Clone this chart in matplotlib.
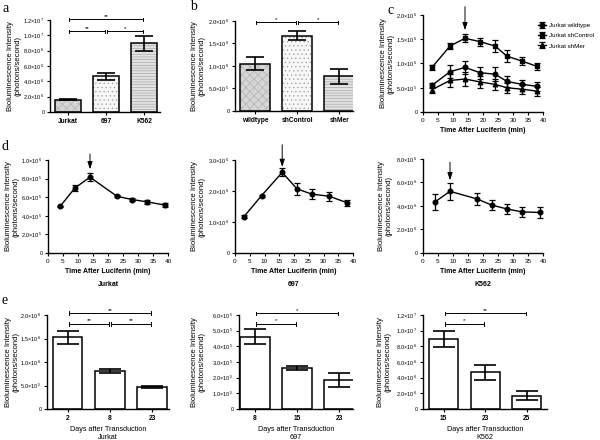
import matplotlib
matplotlib.use("Agg")
import matplotlib.pyplot as plt
from matplotlib.ticker import FuncFormatter, MultipleLocator
import numpy as np

plt.rcParams['font.family'] = ['Liberation Sans', 'DejaVu Sans']
plt.rcParams['mathtext.fontset'] = 'custom'
plt.rcParams['mathtext.rm'] = 'Liberation Sans'
plt.rcParams['hatch.linewidth'] = 0.4

# ---- datos ----
a_cats = ['Jurkat', '697', 'K562']
a_vals = [1.6e6, 4.65e6, 8.95e6]
a_err = [0.1e6, 0.5e6, 0.97e6]
a_sig = [(0, 2, 1.21e7, '**'), (0, 1, 1.05e7, '**'), (1, 2, 1.05e7, '*')]

b_cats = ['wildtype', 'shControl', 'shMer']
b_vals = [1.05e6, 1.67e6, 0.77e6]
b_err = [0.14e6, 0.1e6, 0.16e6]
b_sig = [(0, 1, 1.97e6, '*'), (1, 2, 1.97e6, '*')]

c_time = [3, 9, 14, 19, 24, 28, 33, 38]
c_names = ['Jurkat wildtype', 'Jurkat shControl', 'Jurkat shMer']
c_wt = [0.55e6, 0.83e6, 0.92e6, 0.81e6, 0.78e6, 0.63e6, 0.57e6, 0.53e6]
c_wt_err = [0.05e6, 0.13e6, 0.13e6, 0.12e6, 0.14e6, 0.12e6, 0.09e6, 0.09e6]
c_ctrl = [0.92e6, 1.36e6, 1.52e6, 1.45e6, 1.36e6, 1.15e6, 1.05e6, 0.94e6]
c_ctrl_err = [0.05e6, 0.07e6, 0.08e6, 0.08e6, 0.13e6, 0.12e6, 0.09e6, 0.08e6]
c_mer = [0.46e6, 0.65e6, 0.68e6, 0.62e6, 0.57e6, 0.50e6, 0.47e6, 0.43e6]
c_mer_err = [0.06e6, 0.13e6, 0.15e6, 0.12e6, 0.12e6, 0.10e6, 0.09e6, 0.09e6]
c_peak = 14

d_jurkat_t = [4, 9, 14, 23, 28, 33, 39]
d_jurkat = [5.0e5, 7.0e5, 8.15e5, 6.1e5, 5.75e5, 5.5e5, 5.15e5]
d_jurkat_err = [0.1e5, 0.3e5, 0.4e5, 0.1e5, 0.2e5, 0.25e5, 0.25e5]
d_jurkat_peak = 14

d_697_t = [3, 9, 16, 21, 26, 32, 38]
d_697 = [1.17e6, 1.85e6, 2.6e6, 2.07e6, 1.9e6, 1.83e6, 1.62e6]
d_697_err = [0.05e6, 0.03e6, 0.13e6, 0.2e6, 0.15e6, 0.14e6, 0.1e6]
d_697_peak = 16

d_k562_t = [4, 9, 18, 23, 28, 33, 39]
d_k562 = [4.35e6, 5.25e6, 4.6e6, 4.07e6, 3.75e6, 3.5e6, 3.45e6]
d_k562_err = [0.7e6, 0.7e6, 0.5e6, 0.45e6, 0.45e6, 0.4e6, 0.45e6]
d_k562_peak = 9

e_jurkat_days = ['2', '8', '23']
e_jurkat = [1.53e6, 0.81e6, 0.46e6]
e_jurkat_err = [0.14e6, 0.04e6, 0.02e6]
e_jurkat_sig = [(0, 2, 2.04e6, '**'), (0, 1, 1.81e6, '**'), (1, 2, 1.81e6, '**')]

e_697_days = ['8', '15', '23']
e_697 = [4.6e5, 2.6e5, 1.85e5]
e_697_err = [0.48e5, 0.12e5, 0.45e5]
e_697_sig = [(0, 2, 6.1e5, '*'), (0, 1, 5.43e5, '*')]

e_k562_days = ['15', '23', '25']
e_k562 = [8.9e6, 4.7e6, 1.72e6]
e_k562_err = [1.0e6, 0.95e6, 0.53e6]
e_k562_sig = [(0, 2, 12.2e6, '**'), (0, 1, 10.86e6, '*')]

YLABEL = 'Bioluminescence Intensity\n(photons/second)'
W, H = 600, 440

fig = plt.figure(figsize=(6, 4.4), dpi=100)


def panel(l, r, t, b):
    return fig.add_axes([l / W, 1 - b / H, (r - l) / W, (b - t) / H])


def sci(v, pos):
    if abs(v) < 1e-9:
        return '0'
    e = int(np.floor(np.log10(abs(v)) + 1e-9))
    return '%.1f×10$^{%d}$' % (v / 10 ** e, e)


def estilo(ax, ymax, ystep, ylab_x):
    for s in ['top', 'right']:
        ax.spines[s].set_visible(False)
    for s in ['left', 'bottom']:
        ax.spines[s].set_linewidth(1.0)
    ax.set_ylim(0, ymax)
    ax.yaxis.set_major_locator(MultipleLocator(ystep))
    ax.yaxis.set_major_formatter(FuncFormatter(sci))
    ax.tick_params(axis='y', labelsize=4.0, length=2.5, width=0.8, pad=1.5)
    ax.tick_params(axis='x', length=2.5, width=0.8, pad=2)
    pos = ax.get_position()
    fig.text(ylab_x / W, pos.y0 + pos.height / 2, YLABEL, rotation=90,
             ha='center', va='center', fontsize=5.6, linespacing=1.1)


rellenos = [('#d6d6d6', '#ababab', 'xxxx'),
            ('#f7f7f7', '#9a9a9a', '....'),
            ('#e2e2e2', '#9a9a9a', '------')]


def barras(ax, cats, vals, errs, sig, xlim, capsize, patron, bold_ticks):
    x = np.arange(len(cats))
    if patron:
        for i in range(len(cats)):
            fc, hc, h = rellenos[i]
            ax.bar(x[i], vals[i], width=0.7, color=fc, edgecolor=hc,
                   hatch=h, linewidth=0)
        ax.bar(x, vals, width=0.7, fill=False, edgecolor='k', linewidth=1.1)
    else:
        ax.bar(x, vals, width=0.7, color='white', edgecolor='k', linewidth=1.1)
    ax.errorbar(x, vals, yerr=errs, fmt='none', ecolor='k', elinewidth=1.2,
                capsize=capsize, capthick=1.2)
    ax.set_xlim(*xlim)
    ax.set_xticks(x)
    ax.set_xticklabels(cats, fontsize=4.8,
                       fontweight='bold' if bold_ticks else 'normal')
    ymax = ax.get_ylim()[1]
    d = ymax * 0.018
    for i, j, y, lab in sig:
        x0, x1 = x[i] + 0.02, x[j] - 0.02
        ax.plot([x0, x1], [y, y], color='k', lw=0.7, clip_on=False)
        ax.plot([x0, x0], [y - d, y + d], color='k', lw=0.7, clip_on=False)
        ax.plot([x1, x1], [y - d, y + d], color='k', lw=0.7, clip_on=False)
        ax.text((x0 + x1) / 2, y + d * 0.3, lab, ha='center', va='bottom',
                fontsize=4.5)


def flecha(ax, xp, ytop, largo, gap=3):
    ax.annotate('', xy=(xp, ytop), xytext=(0, largo + gap),
                textcoords='offset points', annotation_clip=False,
                arrowprops=dict(arrowstyle='-|>,head_length=0.45,head_width=0.15',
                                color='k', lw=0.7, shrinkA=0, shrinkB=gap))


def lineas(ax, t, v, e, marker, label=None):
    ax.errorbar(t, v, yerr=e, fmt='-', marker=marker, color='k', ms=3.3,
                lw=1.0, elinewidth=0.9, capsize=2.2, capthick=0.9, label=label)


def eje_tiempo(ax, sub):
    ax.set_xlim(0, 40)
    ax.xaxis.set_major_locator(MultipleLocator(5))
    ax.tick_params(axis='x', labelsize=4.6)
    ax.set_xlabel('Time After Luciferin (min)', fontsize=5.0,
                  fontweight='bold', labelpad=3)
    if sub:
        ax.text(0.5, -0.335, sub, transform=ax.transAxes, ha='center',
                va='center', fontsize=5.0, fontweight='bold')


# ---- a ----
ax = panel(50, 160, 20, 112)
estilo(ax, 1.2e7, 2e6, 14)
barras(ax, a_cats, a_vals, a_err, a_sig, (-0.47, 2.42), 6.5, True, True)

# ---- b ----
ax = panel(235, 353, 21, 111)
estilo(ax, 2.0e6, 5e5, 198)
barras(ax, b_cats, b_vals, b_err, b_sig, (-0.48, 2.33), 6.5, True, True)

# ---- c ----
ax = panel(423, 543, 15, 112)
estilo(ax, 2.0e6, 5e5, 387)
lineas(ax, c_time, c_wt, c_wt_err, 'o', c_names[0])
lineas(ax, c_time, c_ctrl, c_ctrl_err, 's', c_names[1])
lineas(ax, c_time, c_mer, c_mer_err, '^', c_names[2])
eje_tiempo(ax, None)
i = c_time.index(c_peak)
flecha(ax, c_peak, c_ctrl[i] + c_ctrl_err[i], 17)
fig.legend(loc='upper left', bbox_to_anchor=(538 / W, 1 - 23 / H),
           frameon=False, fontsize=4.5, handlelength=1.3, handletextpad=0.5,
           labelspacing=0.75, borderpad=0, borderaxespad=0)

# ---- d ----
ax = panel(48, 168, 160, 253)
estilo(ax, 1.0e6, 2e5, 12)
lineas(ax, d_jurkat_t, d_jurkat, d_jurkat_err, 'o')
eje_tiempo(ax, 'Jurkat')
i = d_jurkat_t.index(d_jurkat_peak)
flecha(ax, d_jurkat_peak, d_jurkat[i] + d_jurkat_err[i], 11)

ax = panel(235, 353, 160, 253)
estilo(ax, 3.0e6, 1e6, 198)
lineas(ax, d_697_t, d_697, d_697_err, 'o')
eje_tiempo(ax, '697')
i = d_697_t.index(d_697_peak)
flecha(ax, d_697_peak, d_697[i] + d_697_err[i], 16, gap=1)

ax = panel(423, 543, 159, 253)
estilo(ax, 8.0e6, 2e6, 385)
lineas(ax, d_k562_t, d_k562, d_k562_err, 'o')
eje_tiempo(ax, 'K562')
i = d_k562_t.index(d_k562_peak)
flecha(ax, d_k562_peak, d_k562[i] + d_k562_err[i], 13, gap=2)

# ---- e ----
for (l, r, xl, lx, ymax, ystep, cats, vals, errs, sig, sub) in [
        (47, 169, (-0.49, 2.4), 12, 2.0e6, 5e5, e_jurkat_days, e_jurkat,
         e_jurkat_err, e_jurkat_sig, 'Jurkat'),
        (239, 353, (-0.38, 2.33), 198, 6.0e5, 1e5, e_697_days, e_697,
         e_697_err, e_697_sig, '697'),
        (423, 547, (-0.5, 2.49), 384, 1.2e7, 2e6, e_k562_days, e_k562,
         e_k562_err, e_k562_sig, 'K562')]:
    ax = panel(l, r, 315, 409)
    estilo(ax, ymax, ystep, lx)
    barras(ax, cats, vals, errs, sig, xl, 8, False, True)
    ax.set_xlabel('Days after Transduction', fontsize=5.2, labelpad=3)
    ax.text(0.5, -0.30, sub, transform=ax.transAxes, ha='center',
            va='center', fontsize=5.2)

# letras de panel
for lt, px, py in [('a', 6, 8), ('b', 193, 6), ('c', 391, 10),
                   ('d', 5, 147), ('e', 5, 301)]:
    fig.text(px / W, 1 - py / H, lt, ha='center', va='center', fontsize=10,
             family='Liberation Serif')

fig.savefig('out.png', dpi=100)
